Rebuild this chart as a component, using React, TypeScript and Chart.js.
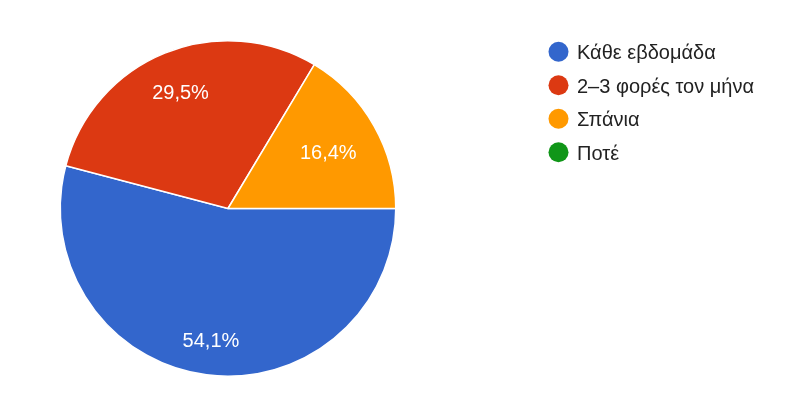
import React, { useEffect, useRef } from "react";
import { Chart, registerables } from "chart.js";

Chart.register(...registerables);

const categories = ["Κάθε εβδομάδα", "2–3 φορές τον μήνα", "Σπάνια", "Ποτέ"];
const counts = [33, 18, 10, 0];
const colors = ["#3366cc", "#dc3912", "#ff9900", "#109618"];

const FONT = 'Arial, "Liberation Sans", sans-serif';

const labelPlugin = {
  id: "sliceLabels",
  afterDatasetsDraw(chart: any) {
    const ctx = chart.ctx;
    const meta = chart.getDatasetMeta(0);
    const data = chart.data.datasets[0].data as number[];
    const total = data.reduce((a, b) => a + b, 0);
    ctx.save();
    ctx.fillStyle = "#ffffff";
    ctx.font = `20px ${FONT}`;
    ctx.textAlign = "center";
    ctx.textBaseline = "alphabetic";
    meta.data.forEach((arc: any, i: number) => {
      const v = data[i];
      if (!v) return;
      const p = arc.getProps(["startAngle", "endAngle", "outerRadius", "x", "y"], true);
      const mid = (p.startAngle + p.endAngle) / 2;
      const txt = ((v / total) * 100).toFixed(1).replace(".", ",") + "%";
      const m = ctx.measureText(txt);
      const hw = m.width / 2;
      const hh = 7.2;
      const extent = Math.abs(Math.cos(mid)) * hw + Math.abs(Math.sin(mid)) * hh;
      const r = p.outerRadius * 0.855 - extent;
      const cx = p.x + Math.cos(mid) * r;
      const cy = p.y + Math.sin(mid) * r;
      ctx.fillText(txt, cx, cy + hh);
    });
    ctx.restore();
  },
};

const legendPlugin = {
  id: "sideLegend",
  afterDraw(chart: any) {
    const ctx = chart.ctx;
    const labels = chart.data.labels as string[];
    const bg = chart.data.datasets[0].backgroundColor as string[];
    ctx.save();
    ctx.font = `20px ${FONT}`;
    ctx.textBaseline = "alphabetic";
    ctx.textAlign = "left";
    labels.forEach((l, i) => {
      const y = 51.7 + i * 33.5;
      ctx.beginPath();
      ctx.fillStyle = bg[i];
      ctx.arc(558.5, y, 10, 0, Math.PI * 2);
      ctx.fill();
      ctx.fillStyle = "#222222";
      ctx.fillText(l, 577, y + 7.4);
    });
    ctx.restore();
  },
};

export default function App() {
  const ref = useRef<HTMLCanvasElement>(null);
  useEffect(() => {
    document.body.style.margin = "0";
    const chart = new Chart(ref.current!, {
      type: "pie",
      data: {
        labels: categories,
        datasets: [
          {
            data: counts,
            backgroundColor: colors,
            borderColor: "#ffffff",
            borderWidth: 1.5,
          },
        ],
      },
      options: {
        animation: false,
        responsive: false,
        rotation: 90,
        layout: { padding: { left: 59.5, top: 40, right: 415.5, bottom: 27 } },
        plugins: {
          legend: { display: false },
          tooltip: { enabled: false },
        },
      },
      plugins: [labelPlugin, legendPlugin],
    });
    return () => chart.destroy();
  }, []);
  return (
    <div style={{ width: 812, height: 404, background: "#fff" }}>
      <canvas ref={ref} width={812} height={404} style={{ width: 812, height: 404 }} />
    </div>
  );
}
